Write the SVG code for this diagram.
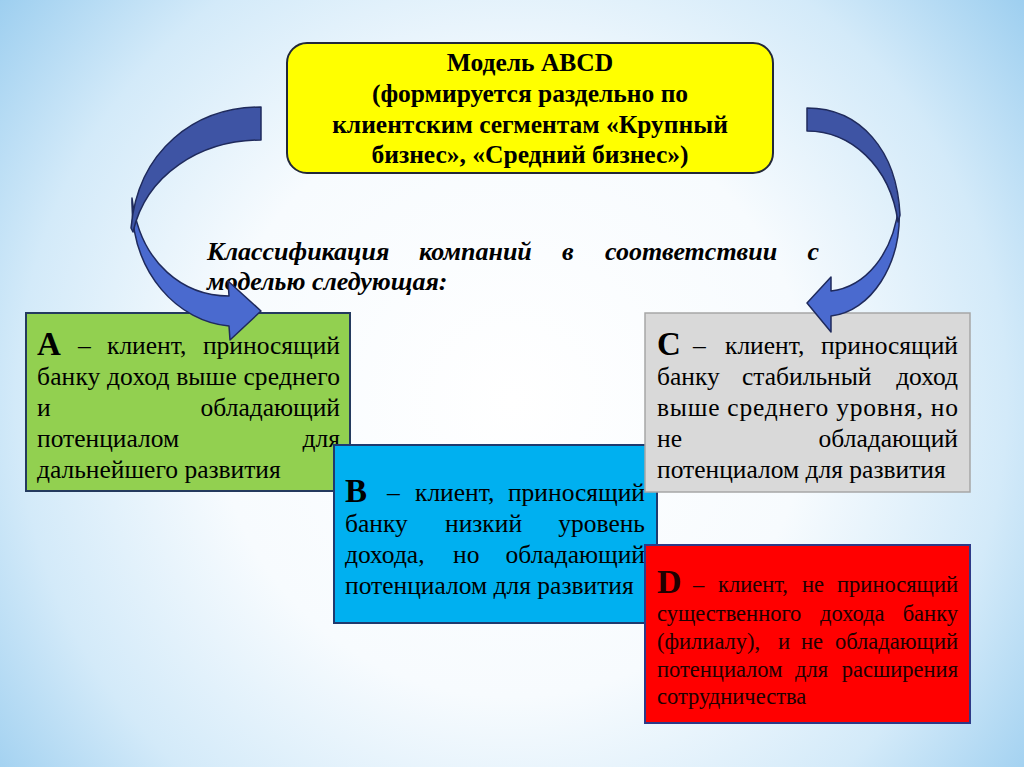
<svg xmlns="http://www.w3.org/2000/svg" width="1024" height="767" viewBox="0 0 1024 767">
<defs>
<radialGradient id="bg" gradientUnits="userSpaceOnUse" cx="512" cy="400" r="660">
<stop offset="0" stop-color="#FFFFFF"/>
<stop offset="0.45" stop-color="#F7FBFE"/>
<stop offset="0.75" stop-color="#D3EAF9"/>
<stop offset="1" stop-color="#9ACDEF"/>
</radialGradient>
<style>
text{font-family:'Liberation Serif','Times New Roman',serif}
.t{font-size:25.5px;fill:#000}
.tb{font-size:25.5px;font-weight:bold;fill:#000}
.ti{font-size:26px;font-weight:bold;font-style:italic;fill:#000}
.big{font-size:33px;font-weight:bold;fill:#000}
.td{font-size:22.5px;fill:#200000}
.bigd{font-size:34px;font-weight:bold;fill:#200000}
.e{text-anchor:end}
.m{text-anchor:middle}
.dark{fill:#3E54A4;stroke:#1F2A5C;stroke-width:1.5;stroke-linejoin:round}
.light{fill:#4A6ACF;stroke:#1F2A5C;stroke-width:1.5;stroke-linejoin:round}
</style>
</defs>
<rect x="0" y="0" width="1024" height="767" fill="url(#bg)"/>

<g id="node-model">
<rect x="287" y="43" width="486" height="130" rx="20" ry="20" fill="#FFFF00" stroke="#222838" stroke-width="2"/>
<text class="tb m" x="530" y="71">Модель ABCD</text>
<text class="tb m" x="530" y="102">(формируется раздельно по</text>
<text class="tb m" x="530" y="133">клиентским сегментам «Крупный</text>
<text class="tb m" x="530" y="163">бизнес», «Средний бизнес»)</text>
</g>

<g id="caption">
<text class="ti" x="207" y="260">Классификация</text>
<text class="ti" x="419" y="260">компаний</text>
<text class="ti" x="562" y="260">в</text>
<text class="ti" x="605" y="260">соответствии</text>
<text class="ti e" x="819" y="260">с</text>
<text class="ti" x="207" y="290">моделью следующая:</text>
</g>

<g id="node-A">
<rect x="26" y="313" width="324" height="178" fill="#92D050" stroke="#243A5E" stroke-width="2"/>
<text class="big" x="37" y="355">А</text>
<text class="t" x="78" y="354">–</text>
<text class="t" x="107" y="354">клиент,</text>
<text class="t e" x="340" y="354">приносящий</text>
<text class="t" x="37" y="385" textLength="303" lengthAdjust="spacing">банку доход выше среднего</text>
<text class="t" x="37" y="416">и</text>
<text class="t e" x="340" y="416">обладающий</text>
<text class="t" x="37" y="447">потенциалом</text>
<text class="t e" x="340" y="447">для</text>
<text class="t" x="37" y="478">дальнейшего развития</text>
</g>

<g id="node-B">
<rect x="334" y="445" width="323" height="178" fill="#00B0F0" stroke="#1F3A6E" stroke-width="2"/>
<text class="big" x="345" y="502">B</text>
<text class="t" x="387" y="501">–</text>
<text class="t" x="415" y="501">клиент,</text>
<text class="t e" x="645" y="501">приносящий</text>
<text class="t" x="345" y="532">банку</text>
<text class="t" x="445" y="532">низкий</text>
<text class="t e" x="645" y="532">уровень</text>
<text class="t" x="345" y="563">дохода,</text>
<text class="t" x="453" y="563">но</text>
<text class="t e" x="645" y="563">обладающий</text>
<text class="t" x="345" y="594">потенциалом для развития</text>
</g>

<g id="node-C">
<rect x="645" y="313" width="325" height="179" fill="#D9D9D9" stroke="#A6A6A6" stroke-width="1.5"/>
<text class="big" x="657" y="355">C</text>
<text class="t" x="693" y="354">–</text>
<text class="t" x="725" y="354">клиент,</text>
<text class="t e" x="958" y="354">приносящий</text>
<text class="t" x="657" y="385">банку</text>
<text class="t" x="742" y="385">стабильный</text>
<text class="t e" x="958" y="385">доход</text>
<text class="t" x="657" y="416" textLength="301" lengthAdjust="spacing">выше среднего уровня, но</text>
<text class="t" x="657" y="447">не</text>
<text class="t e" x="958" y="447">обладающий</text>
<text class="t" x="657" y="478">потенциалом для развития</text>
</g>

<g id="node-D">
<rect x="645" y="545" width="325" height="178" fill="#FF0000" stroke="#2E3A87" stroke-width="2"/>
<text class="bigd" x="657" y="593">D</text>
<text class="td" x="693" y="592">–</text>
<text class="td" x="718" y="592">клиент,</text>
<text class="td" x="802" y="592">не</text>
<text class="td e" x="958" y="592">приносящий</text>
<text class="td" x="657" y="621">существенного</text>
<text class="td" x="820" y="621">дохода</text>
<text class="td e" x="958" y="621">банку</text>
<text class="td" x="657" y="649">(филиалу),</text>
<text class="td" x="778" y="649">и</text>
<text class="td" x="801" y="649">не</text>
<text class="td e" x="958" y="649">обладающий</text>
<text class="td" x="657" y="677">потенциалом</text>
<text class="td" x="795" y="677">для</text>
<text class="td e" x="958" y="677">расширения</text>
<text class="td" x="657" y="704">сотрудничества</text>
</g>

<g id="connectors">
<g id="arrow-to-A">
<path class="light" d="M132,198 C130,275 180,322 229,326 L230,340 L261,311 L228,281 L229,296 C185,296 140,265 132,198 Z"/>
<path class="dark" d="M261,107 C195,107 138,150 131,228 L133,232 C146,175 200,140 261,140 Z"/>
</g>
<g id="arrow-to-C">
<path class="light" d="M899,205 C903,265 870,312 831,316 L831,332 L807,303 L831,277 L831,291 C865,287 893,255 899,205 Z"/>
<path class="dark" d="M807,108 C860,108 897,150 900,215 L898,222 C890,165 850,131 807,131 Z"/>
</g>
</g>
</svg>
